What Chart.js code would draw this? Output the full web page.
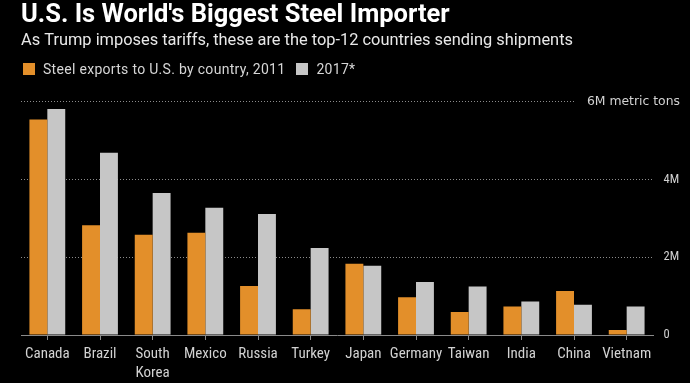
<!DOCTYPE html>
<html>
<head>
<meta charset="utf-8">
<script src="https://cdn.jsdelivr.net/npm/chart.js@4.4.1/dist/chart.umd.min.js"></script>
<style>
  html, body { margin: 0; padding: 0; background: #000; }
  #wrap { width: 690px; height: 383px; position: relative; }
  #legend { position: absolute; left: 23px; top: 63px; display: flex; align-items: center; height: 12px;
            font-family: Roboto, sans-serif; font-size: 14px; letter-spacing: 0.3px; color: #d6d6d6; white-space: nowrap; }
  #legend .item { display: flex; align-items: center; margin-right: 11px; }
  #legend .box { width: 12px; height: 12px; margin-right: 8px; }
</style>
</head>
<body>
<div id="wrap">
  <canvas id="c" width="690" height="383"></canvas>
  <div id="legend"></div>
</div>
<script>
const categories = ["Canada", "Brazil", ["South", "Korea"], "Mexico", "Russia", "Turkey", "Japan", "Germany", "Taiwan", "India", "China", "Vietnam"];
const exports2011 = [5.54, 2.82, 2.58, 2.63, 1.26, 0.66, 1.83, 0.97, 0.59, 0.73, 1.13, 0.13];
const exports2017 = [5.81, 4.69, 3.65, 3.27, 3.11, 2.24, 1.78, 1.36, 1.25, 0.86, 0.78, 0.73];
const seriesNames = ["Steel exports to U.S. by country, 2011", "2017*"];
const seriesColors = ["#E38F2A", "#C6C6C6"];
const yTicks = [0, 2, 4];
const yTickLabels = ["0", "2M", "4M"];
const yTopTick = 6;
const yTopLabel = "6M metric tons";

const RC = '"Roboto Condensed", Roboto, sans-serif';
const RB = 'Roboto, sans-serif';

const htmlLegend = {
  id: 'htmlLegend',
  afterUpdate(chart) {
    const el = document.getElementById('legend');
    el.innerHTML = '';
    chart.data.datasets.forEach(ds => {
      const item = document.createElement('span'); item.className = 'item';
      const box = document.createElement('span'); box.className = 'box'; box.style.background = ds.backgroundColor;
      const txt = document.createElement('span'); txt.textContent = ds.label;
      item.appendChild(box); item.appendChild(txt); el.appendChild(item);
    });
  }
};

new Chart(document.getElementById('c'), {
  type: 'bar',
  data: {
    labels: categories,
    datasets: [
      { label: seriesNames[0], data: exports2011, backgroundColor: seriesColors[0], borderWidth: 0, categoryPercentage: 0.68, barPercentage: 1.0, xAxisID: 'x', yAxisID: 'y' },
      { label: seriesNames[1], data: exports2017, backgroundColor: seriesColors[1], borderWidth: 0, categoryPercentage: 0.68, barPercentage: 1.0, xAxisID: 'x', yAxisID: 'y' }
    ]
  },
  options: {
    responsive: false,
    animation: false,
    layout: { padding: { left: 21, right: 10, top: 0, bottom: 0 } },
    plugins: {
      tooltip: { enabled: false },
      legend: { display: false },
      title: {
        display: true, text: "U.S. Is World's Biggest Steel Importer", align: 'start', color: '#ffffff',
        font: { family: RB, size: 25.5, weight: 'bold', lineHeight: 1.15 }, padding: { top: 1, bottom: 0 }
      },
      subtitle: {
        display: true, text: "As Trump imposes tariffs, these are the top-12 countries sending shipments", align: 'start', color: '#e8e8e8',
        font: { family: RB, size: 16.4, lineHeight: 1.2 }, padding: { top: 1, bottom: 0 }
      }
    },
    scales: {
      x: {
        position: 'bottom',
        grid: { display: true, drawOnChartArea: false, drawTicks: true, tickLength: 5, offset: false, color: '#8a8a8a' },
        border: { display: true, color: '#8a8a8a', width: 1 },
        ticks: { color: '#d2d2d2', font: { family: RC, size: 15, lineHeight: 1.27 }, padding: 5, maxRotation: 0, autoSkip: false },
        afterFit: s => { s.height = 48; }
      },
      xT: {
        type: 'linear', position: 'top', display: true,
        grid: { display: false }, border: { display: false }, ticks: { display: false },
        afterFit: s => { s.height = 50.7; }
      },
      y: {
        position: 'right', min: 0, max: 6,
        grid: {
          display: true, drawTicks: false, lineWidth: 1,
          color: c => (c.tick && c.tick.value === 0) ? 'rgba(0,0,0,0)' : '#8c8c8c'
        },
        border: { display: false, dash: [1, 2] },
        ticks: {
          stepSize: 2, padding: 10.5, crossAlign: 'near', color: '#d2d2d2',
          font: { family: RC, size: 12.5 },
          callback: v => { const i = yTicks.indexOf(v); return i >= 0 ? yTickLabels[i] : ''; }
        },
        afterFit: s => { s.width = 27; }
      },
      y2: {
        position: 'right', weight: 1, min: 0, max: 6,
        grid: { display: false }, border: { display: false },
        ticks: {
          stepSize: 6, mirror: true, padding: 0, crossAlign: 'near', z: 1, color: '#d2d2d2',
          font: { family: '"DejaVu Sans", sans-serif', size: 12.4 },
          callback: v => v === yTopTick ? yTopLabel : null,
          showLabelBackdrop: c => !!(c.tick && c.tick.value === yTopTick),
          backdropColor: '#000000',
          backdropPadding: { left: 11, right: 0, top: 3, bottom: 3 }
        },
        afterFit: s => { s.width = 0; }
      }
    }
  },
  plugins: [htmlLegend, {
    id: 'bg',
    beforeDraw(chart) {
      const ctx = chart.ctx;
      ctx.save(); ctx.fillStyle = '#000'; ctx.fillRect(0, 0, chart.width, chart.height); ctx.restore();
    }
  }]
});
</script>
</body>
</html>
